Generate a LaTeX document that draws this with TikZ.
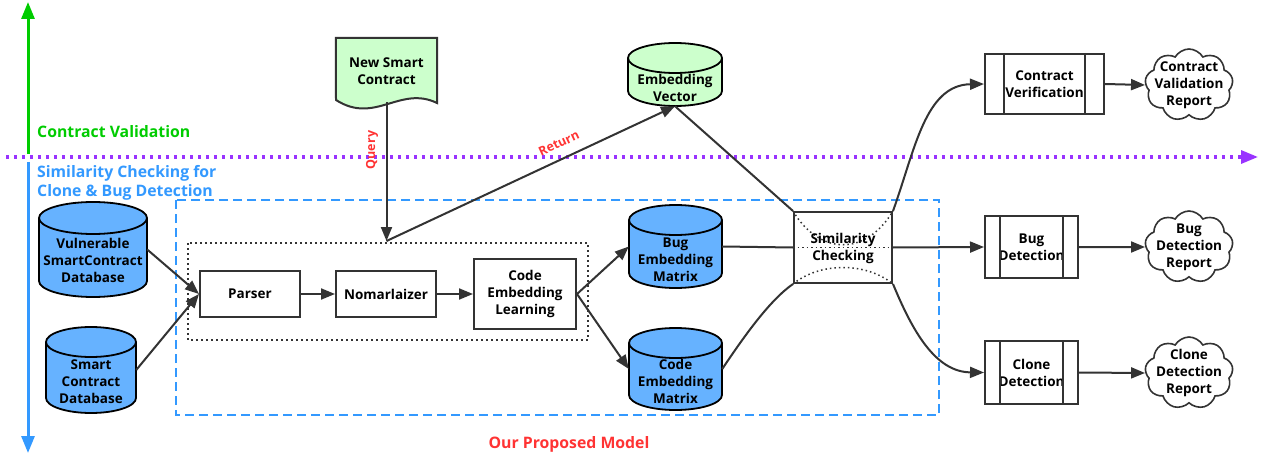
\documentclass[tikz,border=0pt]{standalone}
\usepackage{fontspec}
\setmainfont{Open Sans}
\usetikzlibrary{arrows.meta,shapes.symbols,calc}
\definecolor{dk}{HTML}{333333}
\definecolor{lgreen}{HTML}{CCFFCC}
\definecolor{lblue}{HTML}{66B2FF}
\definecolor{vgreen}{HTML}{00CC00}
\definecolor{vblue}{HTML}{3399FF}
\definecolor{vred}{HTML}{FF3333}
\definecolor{vpurple}{HTML}{9933FF}
\newcommand\dbcyl[6]{%
  \filldraw[draw=black, line width=1.8pt, fill=#6] (#1,-#3-#5) -- (#1,-#4+#5)
    arc[start angle=180,end angle=360,x radius={(#2-#1)/2},y radius=#5] -- (#2,-#3-#5)
    arc[start angle=0,end angle=180,x radius={(#2-#1)/2},y radius=#5]
    arc[start angle=180,end angle=360,x radius={(#2-#1)/2},y radius=#5];}
\begin{document}
\begin{tikzpicture}[x=1pt,y=1pt,
  txt/.style={font=\bfseries\fontsize{13.5}{17}\selectfont, align=center, text=black, inner sep=0pt},
  lbl/.style={font=\bfseries\fontsize{15.8}{19}\selectfont, inner sep=0pt},
  rlbl/.style={font=\bfseries\fontsize{12.5}{15}\selectfont, text=vred, inner sep=0pt},
  box/.style={txt, draw=dk, line width=2pt, fill=white},
  anch/.style={draw=none, fill=none, inner sep=0pt},
  conn/.style={draw=dk, line width=2pt},
  arr/.style={conn, -{Triangle[length=14pt,width=11pt]}},
  cloudst/.style={cloud, draw=dk, line width=1.6pt, fill=white, cloud puffs=9, cloud puff arc=120, aspect=1.25, inner sep=0pt}
]
\useasboundingbox (0,0) rectangle (1273,-457);

% axes
\coordinate (gbot) at (28,-154);
\coordinate (gtop) at (28,-2);
\coordinate (bbot) at (28,-453);
\coordinate (btop) at (28,-162);
\coordinate (pl) at (6,-157);
\coordinate (pr) at (1258,-157);
\draw[vgreen, line width=3pt, -{Triangle[length=17pt,width=13pt]}] (gbot) -- (gtop);
\draw[vblue, line width=3pt, -{Triangle[length=17pt,width=13pt]}] (btop) -- (bbot);
\draw[vpurple, line width=3.2pt, dash pattern=on 3pt off 5pt, -{Triangle[length=17pt,width=13pt]}] (pl) -- (pr);

\node[lbl, text=vgreen, anchor=west] (lcv) at (37,-132) {Contract Validation};
\node[lbl, text=vblue, anchor=west, align=left] (lsc) at (37,-183) {Similarity Checking for\\Clone \& Bug Detection};
\node[lbl, text=vred] (lpm) at (569,-444) {Our Proposed Model};

% frames
\draw[vblue, line width=2pt, dash pattern=on 9pt off 5pt] (176,-200) rectangle (939,-415);
\draw[dk, line width=1.8pt, dash pattern=on 1.8pt off 3.2pt] (188,-243) rectangle (588,-340);

% cylinders
\dbcyl{39}{147}{202}{297}{16}{lblue}
\dbcyl{46}{136}{327}{413}{15}{lblue}
\dbcyl{629}{722}{205}{288}{15}{lblue}
\dbcyl{629}{722}{328}{410}{15}{lblue}
\dbcyl{628}{722}{43}{106}{15}{lgreen}
\node[anch, minimum width=108pt, minimum height=95pt] (vdb) at (93,-249.5) {};
\node[anch, minimum width=90pt, minimum height=86pt] (sdb) at (91,-370) {};
\node[anch, minimum width=93pt, minimum height=83pt] (bem) at (675.5,-246.5) {};
\node[anch, minimum width=93pt, minimum height=82pt] (cem) at (675.5,-369) {};
\node[anch, minimum width=94pt, minimum height=63pt] (ev) at (675,-74.5) {};
\node[txt] (tvdb) at (93,-260) {Vulnerable\\SmartContract\\Database};
\node[txt] (tsdb) at (91,-381.5) {Smart\\Contract\\Database};
\node[txt] (tbem) at (675.5,-260) {Bug\\Embedding\\Matrix};
\node[txt] (tcem) at (675.5,-381.5) {Code\\Embedding\\Matrix};
\node[txt] (tev) at (675,-88) {Embedding\\Vector};

% document
\node[anch, minimum width=101pt, minimum height=64pt] (nsc) at (386.5,-70) {};
\filldraw[fill=lgreen, draw=dk, line width=2pt] (nsc.north west) -- (nsc.north east) -- (437,-103) .. controls (400,-85) and (375,-125) .. (336,-100) -- cycle;
\node[txt] (tnsc) at (386.5,-71) {New Smart\\Contract};

% process boxes
\node[box, minimum width=100pt, minimum height=46pt] (parser) at (250,-294) {Parser};
\node[box, minimum width=100pt, minimum height=46pt] (norm) at (386,-294) {Nomarlaizer};
\node[box, minimum width=102pt, minimum height=70pt] (cel) at (525,-294) {Code\\Embedding\\Learning};

% similarity
\node[box, minimum width=98pt, minimum height=71pt] (sim) at (843,-247.5) {};
\draw[dk, line width=1.5pt, dash pattern=on 1.5pt off 3pt] (sim.north west) .. controls (820,-256) and (866,-256) .. (sim.north east);
\draw[dk, line width=1.5pt, dash pattern=on 1.5pt off 3pt] (sim.south west) .. controls (820,-262) and (866,-262) .. (sim.south east);
\draw[dk, line width=1.5pt, dash pattern=on 1.5pt off 3pt] (sim.west) -- (sim.east);
\node[txt] (tsim) at (843,-248) {Similarity\\Checking};

% predefined process
\node[box, minimum width=119pt, minimum height=60pt] (cv) at (1044.5,-84) {Contract\\Verification};
\node[box, minimum width=93pt, minimum height=62pt] (bd) at (1031.5,-247) {Bug\\Detection};
\node[box, minimum width=93pt, minimum height=63pt] (cl) at (1031.5,-372.5) {Clone\\Detection};
\draw[conn] ($(cv.north west)+(20,0)$) -- ($(cv.south west)+(20,0)$);
\draw[conn] ($(cv.north east)+(-20,0)$) -- ($(cv.south east)+(-20,0)$);
\draw[conn] ($(bd.north west)+(16,0)$) -- ($(bd.south west)+(16,0)$);
\draw[conn] ($(bd.north east)+(-16,0)$) -- ($(bd.south east)+(-16,0)$);
\draw[conn] ($(cl.north west)+(16,0)$) -- ($(cl.south west)+(16,0)$);
\draw[conn] ($(cl.north east)+(-16,0)$) -- ($(cl.south east)+(-16,0)$);

% clouds
\node[cloudst, minimum width=88pt, minimum height=72pt] (cvr) at (1189,-85) {};
\node[cloudst, minimum width=88pt, minimum height=72pt] (bdr) at (1189,-247) {};
\node[cloudst, minimum width=88pt, minimum height=72pt] (clr) at (1189,-373) {};
\node[txt] (tcvr) at (cvr) {Contract\\Validation\\Report};
\node[txt] (tbdr) at (bdr) {Bug\\Detection\\Report};
\node[txt] (tclr) at (clr) {Clone\\Detection\\Report};

% connectors
\coordinate (qr) at (386.5,-241);
\draw[arr] (nsc.south) -- (qr);
\node[rlbl, rotate=90] (tq) at (372,-150) {Query};
\draw[arr] (qr) -- node[rlbl, sloped, above=10pt, pos=0.62] (tret) {Return} (ev.south);
\draw[arr] (vdb.east) -- (parser.west);
\draw[arr] (sdb.east) -- (parser.west);
\draw[arr] (parser) -- (norm);
\draw[arr] (norm) -- (cel);
\draw[arr] (cel.east) -- (bem.west);
\draw[arr] (cel.east) -- (cem.west);
\draw[conn] (ev.south) -- (sim.north west);
\draw[conn] (bem.east) -- (sim.west);
\draw[conn] (cem.east) .. controls (745,-335) and (770,-300) .. (sim.south west);
\draw[arr] (sim.north east) .. controls (915,-150) and (925,-85) .. (cv.west);
\draw[arr] (sim.east) -- (bd.west);
\draw[arr] (sim.south east) .. controls (912,-330) and (935,-372) .. (cl.west);
\draw[arr] (cv.east) -- (cvr.west);
\draw[arr] (bd.east) -- (bdr.west);
\draw[arr] (cl.east) -- (clr.west);
\end{tikzpicture}
\end{document}
